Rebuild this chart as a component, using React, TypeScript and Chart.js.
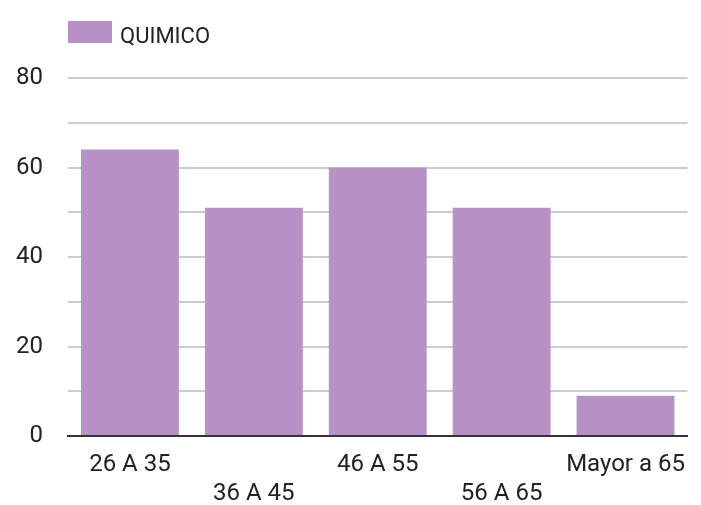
import React, { useEffect, useRef } from "react";
import { Chart, registerables } from "chart.js";

Chart.register(...registerables);

const categories = ["26 A 35", "36 A 45", "46 A 55", "56 A 65", "Mayor a 65"];
const seriesName = "QUIMICO";
const quimicoValues = [64, 51, 60, 51, 9];
const yTickLabels = [0, 20, 40, 60, 80];

const BAR_COLOR = "#b891c6";
const TEXT_COLOR = "#222222";
const FONT = "Roboto";

const legendPlugin = {
  id: "customLegend",
  afterDraw(chart: any) {
    const ctx = chart.ctx;
    const left = chart.chartArea.left;
    ctx.save();
    ctx.fillStyle = BAR_COLOR;
    ctx.fillRect(left, 21, 44, 22);
    ctx.fillStyle = TEXT_COLOR;
    ctx.font = `22px ${FONT}`;
    ctx.textBaseline = "alphabetic";
    ctx.textAlign = "left";
    ctx.fillText(seriesName, left + 52, 43);
    ctx.restore();
  },
};

export default function App() {
  const ref = useRef<HTMLCanvasElement | null>(null);
  useEffect(() => {
    document.body.style.margin = "0";
    if (!ref.current) return;
    const labels = categories.map((c, i) => (i % 2 === 0 ? [c] : ["", c]));
    const chart = new Chart(ref.current, {
      type: "bar",
      data: {
        labels,
        datasets: [
          {
            label: seriesName,
            data: quimicoValues,
            backgroundColor: BAR_COLOR,
            borderWidth: 0,
            categoryPercentage: 0.79,
            barPercentage: 1,
          },
        ],
      },
      options: {
        animation: false,
        responsive: false,
        maintainAspectRatio: false,
        layout: { autoPadding: false, padding: { top: 78, right: 11, bottom: 0, left: 0 } },
        plugins: {
          legend: { display: false },
          tooltip: { enabled: false },
        },
        scales: {
          x: {
            grid: { display: false, drawTicks: false },
            border: { display: true, color: "#333333", width: 2 },
            ticks: {
              color: TEXT_COLOR,
              font: { family: FONT, size: 24, lineHeight: 1.2 },
              padding: 15,
              maxRotation: 0,
              autoSkip: false,
            },
            afterFit(scale: any) {
              scale.height = 69;
            },
          },
          y: {
            min: 0,
            max: 80,
            grid: {
              color: "#cccccc",
              lineWidth: 2,
              drawTicks: false,
            },
            border: { display: false },
            ticks: {
              stepSize: 10,
              color: TEXT_COLOR,
              font: { family: FONT, size: 24 },
              padding: 25,
              callback: (v: any) => (yTickLabels.includes(Number(v)) ? String(v) : ""),
            },
            afterFit(scale: any) {
              scale.width = 68;
            },
          },
        },
      },
      plugins: [legendPlugin],
    });
    return () => chart.destroy();
  }, []);
  return (
    <div style={{ width: 701, height: 505 }}>
      <canvas ref={ref} width={701} height={505} style={{ display: "block" }} />
    </div>
  );
}
